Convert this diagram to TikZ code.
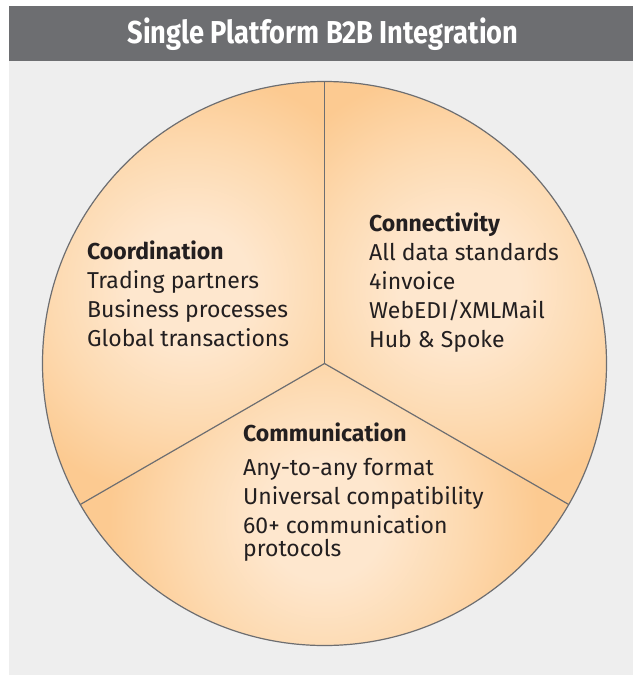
\documentclass[tikz,border=0pt]{standalone}
\usepackage{fontspec}
\usetikzlibrary{calc}
\setmainfont{Fira Sans}
\newfontfamily\headfont[FakeStretch=0.86]{Fira Sans}
\definecolor{headgray}{HTML}{6D6E71}
\definecolor{panelgray}{HTML}{EEEEEE}
\definecolor{rimgray}{HTML}{6D6E71}
\definecolor{secLight}{HTML}{FEE7CE}
\definecolor{secMid}{HTML}{FDDAB1}
\definecolor{secDark}{HTML}{FCCA91}
\definecolor{ink}{HTML}{231F20}
\pgfdeclareradialshading{sectorglow}{\pgfpointorigin}{%
  color(0bp)=(secLight); color(7bp)=(secLight); color(16bp)=(secMid); color(25bp)=(secDark); color(50bp)=(secDark)}
\tikzset{
  rim/.style={draw=rimgray, line width=1.2pt},
  headtext/.style={text=white, font=\headfont\bfseries\fontsize{31.7}{36}\selectfont, inner sep=0pt},
  block/.style={anchor=north west, inner sep=0pt, align=left, text=ink,
    font=\fontsize{23}{29}\selectfont},
}
\begin{document}
\begin{tikzpicture}[x=1pt, y=-1pt]
\useasboundingbox (0,0) rectangle (633,675);
\fill[white] (0,0) rectangle (633,675);
% panel and title bar
\fill[panelgray] (9,61) rectangle (633,675);
\fill[headgray] (9,6) rectangle (633,61);
\node[headtext] (title) at (323,34) {Single Platform B2B Integration};

% pie centre and divider ends
\coordinate (O) at (324.5,363.5);
\coordinate (topEnd) at ($(O)+(270:282)$);
\coordinate (leftEnd) at ($(O)+(150:282)$);
\coordinate (rightEnd) at ($(O)+(30:282)$);

% three shaded sectors: dark base, lighter glow towards the middle
\begin{scope}
  \clip (O) -- (topEnd) arc[start angle=270, end angle=150, radius=282] -- cycle;
  \fill[secDark] (0,0) rectangle (633,675);
  \shade[shading=sectorglow] (190,286) circle (215);
\end{scope}
\begin{scope}
  \clip (O) -- (rightEnd) arc[start angle=30, end angle=-90, radius=282] -- cycle;
  \fill[secDark] (0,0) rectangle (633,675);
  \shade[shading=sectorglow] (458,286) circle (215);
\end{scope}
\begin{scope}
  \clip (O) -- (leftEnd) arc[start angle=150, end angle=30, radius=282] -- cycle;
  \fill[secDark] (0,0) rectangle (633,675);
  \shade[shading=sectorglow] (324,519) circle (215);
\end{scope}

% outline and dividers
\draw[rim] (O) circle (282);
\draw[rim] (O) -- (topEnd);
\draw[rim] (O) -- (leftEnd);
\draw[rim] (O) -- (rightEnd);

% sector texts
\node[block] (coord) at (87,241) {\textbf{Coordination}\\Trading partners\\Business processes\\Global transactions};
\node[block] (conn) at (369,213) {\textbf{Connectivity}\\All data standards\\4invoice\\WebEDI/XMLMail\\Hub \& Spoke};
\node[block] (comm) at (243,423) {\textbf{Communication}\\[5pt]Any-to-any format\\Universal compatibility\\60+ communication\\[-6pt]protocols};
\end{tikzpicture}
\end{document}
